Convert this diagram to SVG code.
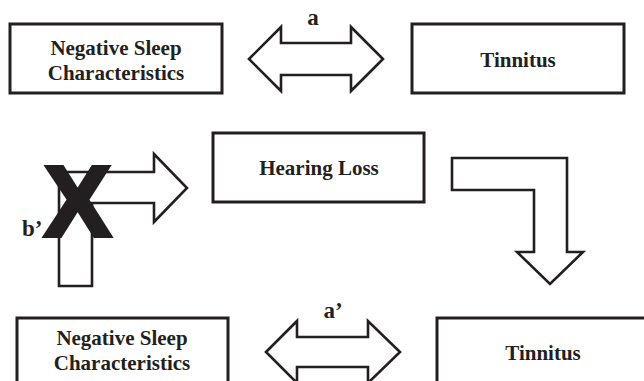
<svg xmlns="http://www.w3.org/2000/svg" width="644" height="381" viewBox="0 0 644 381">
<style>
.box{fill:#fff;stroke:#231f20;stroke-width:3}
.arr{fill:#fff;stroke:#231f20;stroke-width:2.6;stroke-linejoin:miter}
.t{font-family:"Liberation Serif","Times New Roman",serif;font-weight:bold;font-size:21px;fill:#231f20;text-anchor:middle}
.lbl{font-family:"Liberation Serif","Times New Roman",serif;font-weight:bold;font-size:23px;fill:#231f20}
.x{font-family:"Liberation Sans",Arial,sans-serif;font-weight:bold;font-size:100px;fill:#231f20;stroke:#231f20;stroke-width:4;text-anchor:middle}
</style>
<rect width="644" height="381" fill="#fff"/>
<g id="sleep1">
<rect class="box" x="10" y="24" width="212" height="69"/>
<text class="t" x="116" y="55">Negative Sleep</text>
<text class="t" x="116" y="80">Characteristics</text>
</g>
<g id="tinnitus1">
<rect class="box" x="412" y="24" width="212" height="69"/>
<text class="t" x="518" y="67">Tinnitus</text>
</g>
<g id="hearing">
<rect class="box" x="213" y="133" width="211" height="69"/>
<text class="t" x="319" y="175">Hearing Loss</text>
</g>
<g id="sleep2">
<rect class="box" x="17" y="318" width="211" height="80"/>
<text class="t" x="122" y="345">Negative Sleep</text>
<text class="t" x="122" y="370">Characteristics</text>
</g>
<g id="tinnitus2">
<rect class="box" x="437" y="318" width="220" height="80"/>
<text class="t" x="543" y="360">Tinnitus</text>
</g>
<g id="connectors">
<g id="arrow-a">
<polygon class="arr" points="249,59 281,27 281,43 351,43 351,27 383,59 351,91 351,75 281,75 281,91"/>
<text class="lbl" x="313" y="25" text-anchor="middle">a</text>
</g>
<g id="arrow-b">
<polygon class="arr" points="59,286 59,172 154,172 154,154 187,188 154,222 154,203 92,203 92,286"/>
<text class="x" x="77.5" y="236">X</text>
<text class="lbl" x="22" y="236">b’</text>
</g>
<g id="arrow-c">
<polygon class="arr" points="452,158 567,158 567,252 583,252 550,284 517,252 534,252 534,190 452,190"/>
</g>
<g id="arrow-a2">
<polygon class="arr" points="266,352 297,321 297,337 368,337 368,321 400,352 368,383 368,367 297,367 297,383"/>
<text class="lbl" x="333" y="318" text-anchor="middle">a’</text>
</g>
</g>
</svg>
